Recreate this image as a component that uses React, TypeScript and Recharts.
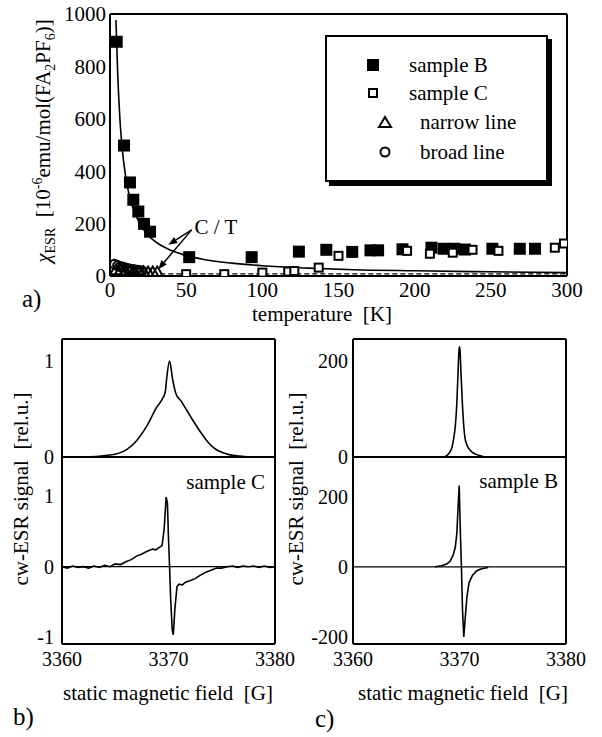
import React from 'react';
import {
  ComposedChart,
  LineChart,
  Line,
  Scatter,
  XAxis,
  YAxis,
  ReferenceLine,
  Legend,
} from 'recharts';

const FONT = '"Liberation Serif", "Times New Roman", Times, serif';
const INK = '#000';

// a) ESR susceptibility vs temperature
const bTemp = [4.4, 9.2, 13.1, 15.3, 18.6, 22.3, 26.3, 52, 93, 124, 142, 159, 171, 176, 192, 211, 219, 226, 233, 251, 269, 279];
const bChi = [894, 498, 357, 291, 246, 199, 169, 72, 72, 93, 100, 92, 98, 98, 102, 108, 104, 104, 101, 104, 104, 104];
const cTemp = [50, 75, 100, 117, 121, 137, 150, 195, 210, 225, 238, 255, 292, 298];
const cChi = [7, 7, 13, 17, 19, 32, 77, 96, 85, 89, 100, 96, 108, 124];
const narrowTemp = [4, 7, 10, 13, 16, 19, 22, 25, 28, 31];
const narrowChi = [22, 20, 18, 16, 15, 14, 14, 13, 13, 13];
const broadTemp = [3, 5, 7, 9, 11, 13, 15, 17, 19, 21];
const broadChi = [45, 40, 36, 33, 30, 27, 25, 23, 21, 20];
const fitTemp = [3.9, 5, 6.5, 8, 10, 12, 15, 20, 25, 30, 40, 50, 60, 80, 100, 130, 160, 200, 250, 300];
const fitChi = [977, 780, 600, 488, 390, 325, 260, 195, 156, 130, 98, 78, 65, 49, 39, 30, 24, 20, 16, 13];
const baseTemp = [33, 300];
const baseChi = [8, 8];

const tempTicks = [0, 50, 100, 150, 200, 250, 300];
const tempMinor = [25, 75, 125, 175, 225, 275];
const chiTicks = [0, 200, 400, 600, 800, 1000];
const chiMinor = [100, 300, 500, 700, 900];

const legendNames = ['sample B', 'sample C', 'narrow line', 'broad line'];

// b) sample C spectra
const cAbsField = [3360, 3362, 3364.5, 3366.1, 3367, 3368, 3368.9, 3369.4, 3369.7, 3369.85, 3370.1, 3370.4, 3370.7, 3371.2, 3371.7, 3372.3, 3373, 3373.6, 3374.2, 3375.5, 3376.7, 3378, 3380];
const cAbsSig = [0, 0, 0.02, 0.08, 0.17, 0.33, 0.52, 0.6, 0.68, 0.84, 1.0, 0.8, 0.66, 0.58, 0.49, 0.38, 0.26, 0.17, 0.1, 0.03, 0.01, 0, 0];
const cDerField = [3360, 3360.5, 3361, 3361.5, 3362, 3362.5, 3363, 3363.5, 3364, 3364.5, 3365, 3365.5, 3366, 3366.5, 3367, 3367.5, 3368, 3368.5, 3368.8, 3369.1, 3369.4, 3369.6, 3369.78, 3369.9, 3370.0, 3370.1, 3370.2, 3370.35, 3370.45, 3370.6, 3370.8, 3371.0, 3371.3, 3371.6, 3372, 3372.5, 3373, 3373.5, 3374, 3374.5, 3375, 3375.5, 3376, 3376.5, 3377, 3377.5, 3378, 3378.5, 3379, 3379.5, 3380];
const cDerSig = [0, -0.02, 0.01, -0.01, 0, -0.02, 0.01, -0.01, 0.02, 0, 0.04, 0.03, 0.07, 0.1, 0.15, 0.18, 0.22, 0.25, 0.24, 0.27, 0.3, 0.55, 0.99, 0.9, 0.4, 0, -0.45, -0.9, -0.97, -0.6, -0.28, -0.25, -0.26, -0.22, -0.2, -0.17, -0.12, -0.08, -0.05, -0.02, -0.02, 0, 0.01, -0.01, 0.01, 0, 0.01, -0.01, 0.01, -0.01, 0];

// c) sample B spectra
const bAbsField = [3368.5, 3368.8, 3369.1, 3369.3, 3369.5, 3369.6, 3369.75, 3369.85, 3369.95, 3370.0, 3370.05, 3370.15, 3370.3, 3370.5, 3370.7, 3371.0, 3371.5, 3371.9, 3372.4];
const bAbsSig = [0, 3, 10, 21, 45, 63, 113, 169, 222, 230, 222, 169, 99, 42, 25, 14, 6, 3, 0];
const bDerField = [3367.7, 3368.3, 3368.8, 3369.1, 3369.4, 3369.6, 3369.75, 3369.85, 3369.97, 3370.07, 3370.18, 3370.28, 3370.4, 3370.5, 3370.7, 3370.9, 3371.2, 3371.6, 3372.0, 3372.7];
const bDerSig = [0, 3, 8, 15, 33, 55, 95, 160, 232, 110, 0, -120, -200, -160, -85, -45, -25, -12, -6, -2];

const fieldTicks = [3360, 3370, 3380];
const fieldMarks = [3360, 3365, 3370, 3375, 3380];
const fieldMinor = [3362.5, 3367.5, 3372.5, 3377.5];

const zipT = (xs: number[], ys: number[]) => xs.map((t, i) => ({ t, chi: ys[i] }));
const zipF = (xs: number[], ys: number[]) => xs.map((f, i) => ({ f, s: ys[i] }));

const FRAME = { stroke: INK, strokeWidth: 2 };
const TICK = { stroke: INK, strokeWidth: 1.3 };

type BoxOpts = {
  xDom: [number, number];
  yDom: [number, number];
  xMaj: number[];
  xMin: number[];
  yMaj: number[];
  yMin: number[];
  topTicks: boolean;
  bottomTicks: boolean;
};

// frame lines + inward ticks on all four sides, built from mirrored axes
// (size 1, an axis of size 0 is not drawn at all)
function boxAxes(o: BoxOpts) {
  const base = { type: 'number' as const, allowDataOverflow: true, mirror: true, tick: false as const };
  const els: React.ReactNode[] = [];
  els.push(
    <XAxis key="xt" xAxisId="xt" orientation="top" {...base} domain={o.xDom} ticks={o.xMaj} height={1}
      tickSize={7} tickLine={o.topTicks ? TICK : false} axisLine={FRAME} />,
  );
  if (o.topTicks && o.xMin.length)
    els.push(<XAxis key="xtn" xAxisId="xtn" orientation="top" {...base} domain={o.xDom} ticks={o.xMin} height={1} tickSize={4} tickLine={TICK} axisLine={false} />);
  if (o.bottomTicks) {
    els.push(<XAxis key="xb" xAxisId="xb" {...base} domain={o.xDom} ticks={o.xMaj} height={1} tickSize={7} tickLine={TICK} axisLine={false} />);
    if (o.xMin.length)
      els.push(<XAxis key="xbn" xAxisId="xbn" {...base} domain={o.xDom} ticks={o.xMin} height={1} tickSize={4} tickLine={TICK} axisLine={false} />);
  }
  els.push(<YAxis key="yl" yAxisId="yl" {...base} domain={o.yDom} ticks={o.yMaj} width={1} tickSize={7} tickLine={TICK} axisLine={false} />);
  els.push(<YAxis key="yr" yAxisId="yr" orientation="right" {...base} domain={o.yDom} ticks={o.yMaj} width={1} tickSize={7} tickLine={TICK} axisLine={FRAME} />);
  if (o.yMin.length) {
    els.push(<YAxis key="yln" yAxisId="yln" {...base} domain={o.yDom} ticks={o.yMin} width={1} tickSize={4} tickLine={TICK} axisLine={false} />);
    els.push(<YAxis key="yrn" yAxisId="yrn" orientation="right" {...base} domain={o.yDom} ticks={o.yMin} width={1} tickSize={4} tickLine={TICK} axisLine={false} />);
  }
  return els;
}

const FilledSquare = (p: any) => <rect x={p.cx - 6} y={p.cy - 6} width={12} height={12} fill={INK} />;
const OpenSquare = (p: any) => (
  <rect x={p.cx - 4} y={p.cy - 4} width={8} height={8} fill="#fff" stroke={INK} strokeWidth={2} />
);
const OpenTriangle = (p: any) => (
  <polygon points={`${p.cx},${p.cy - 6} ${p.cx + 6},${p.cy + 4} ${p.cx - 6},${p.cy + 4}`} fill="none" stroke={INK} strokeWidth={2} />
);
const OpenCircle = (p: any) => <circle cx={p.cx} cy={p.cy} r={4.5} fill="none" stroke={INK} strokeWidth={2} />;

const Arrow = (p: any) => {
  const { x1, y1, x2, y2 } = p;
  const a = Math.atan2(y2 - y1, x2 - x1);
  const L = 9;
  const W = 3.5;
  const bx = x2 - L * Math.cos(a);
  const by = y2 - L * Math.sin(a);
  const pts = `${x2},${y2} ${bx - W * Math.sin(a)},${by + W * Math.cos(a)} ${bx + W * Math.sin(a)},${by - W * Math.cos(a)}`;
  return (
    <g>
      <line x1={x1} y1={y1} x2={bx} y2={by} stroke={INK} strokeWidth={1.5} />
      <polygon points={pts} fill={INK} />
    </g>
  );
};

function LegendIcon({ i }: { i: number }) {
  return (
    <svg width={16} height={16} style={{ display: 'block' }}>
      {i === 0 && <FilledSquare cx={8} cy={8} />}
      {i === 1 && <OpenSquare cx={8} cy={8} />}
      {i === 2 && <OpenTriangle cx={8} cy={9} />}
      {i === 3 && <OpenCircle cx={8} cy={8} />}
    </svg>
  );
}

function LegendBox() {
  const rowCenters = [30, 58, 87, 117];
  const iconX = [38, 38, 50, 50];
  const textX = [82, 82, 93, 93];
  return (
    <div
      style={{
        position: 'relative',
        width: 223,
        height: 147,
        boxSizing: 'border-box',
        border: '2px solid #000',
        background: '#fff',
        boxShadow: '4px 4px 0 #000',
        fontFamily: FONT,
        fontSize: 21,
        color: INK,
      }}
    >
      {legendNames.map((name, i) => (
        <React.Fragment key={name}>
          <div style={{ position: 'absolute', left: iconX[i], top: rowCenters[i] - 10 }}>
            <LegendIcon i={i} />
          </div>
          <div style={{ position: 'absolute', left: textX[i], top: rowCenters[i] - 14, lineHeight: '24px', whiteSpace: 'nowrap' }}>
            {name}
          </div>
        </React.Fragment>
      ))}
    </div>
  );
}

function TemperaturePanel() {
  return (
    <div style={{ position: 'absolute', left: 0, top: 0 }}>
      <ComposedChart width={602} height={340} margin={{ top: 14, right: 35, left: 0, bottom: 0 }}>
        <XAxis xAxisId="x" type="number" dataKey="t" domain={[0, 300]} ticks={tempTicks} interval={0}
          allowDataOverflow tickLine={false} tickSize={0} tickMargin={6} height={64}
          axisLine={FRAME} tick={{ fontSize: 21, fill: INK, fontFamily: FONT }} />
        <YAxis yAxisId="y" type="number" domain={[0, 1000]} ticks={chiTicks} interval={0}
          allowDataOverflow tickLine={false} tickSize={0} tickMargin={4} width={110}
          axisLine={FRAME} tick={{ fontSize: 21, fill: INK, fontFamily: FONT }} />
        {boxAxes({ xDom: [0, 300], yDom: [0, 1000], xMaj: tempTicks, xMin: tempMinor, yMaj: chiTicks, yMin: chiMinor, topTicks: true, bottomTicks: true })}
        <Line xAxisId="x" yAxisId="y" data={zipT(fitTemp, fitChi)} dataKey="chi" type="monotone"
          stroke={INK} strokeWidth={1.6} dot={false} isAnimationActive={false} />
        <Line xAxisId="x" yAxisId="y" data={zipT(baseTemp, baseChi)} dataKey="chi" type="linear"
          stroke={INK} strokeWidth={1.3} strokeDasharray="5 3" dot={false} isAnimationActive={false} />
        <Scatter xAxisId="x" yAxisId="y" name="broad line" data={zipT(broadTemp, broadChi)} dataKey="chi" shape={OpenCircle} isAnimationActive={false} />
        <Scatter xAxisId="x" yAxisId="y" name="narrow line" data={zipT(narrowTemp, narrowChi)} dataKey="chi" shape={OpenTriangle} isAnimationActive={false} />
        <Scatter xAxisId="x" yAxisId="y" name="sample B" data={zipT(bTemp, bChi)} dataKey="chi" shape={FilledSquare} isAnimationActive={false} />
        <Scatter xAxisId="x" yAxisId="y" name="sample C" data={zipT(cTemp, cChi)} dataKey="chi" shape={OpenSquare} isAnimationActive={false} />
        <ReferenceLine xAxisId="x" yAxisId="y" segment={[{ x: 53.6, y: 176 }, { x: 38.3, y: 119 }]} shape={Arrow} />
        <ReferenceLine xAxisId="x" yAxisId="y" segment={[{ x: 53.6, y: 176 }, { x: 31.7, y: 26 }]} shape={Arrow} />
        <Legend layout="vertical" align="center" verticalAlign="middle" content={() => <LegendBox />}
          wrapperStyle={{ left: 325, top: 35, width: 223, height: 147 }} />
      </ComposedChart>
    </div>
  );
}

type SpecProps = {
  left: number;
  yWidth: number;
  upper: boolean;
  data: { f: number; s: number }[];
  yDom: [number, number];
  yTicks: number[];
  tickGap: number;
  curve: 'linear' | 'monotone';
};

function SpectrumPanel({ left, yWidth, upper, data, yDom, yTicks, tickGap, curve }: SpecProps) {
  const xDom: [number, number] = [3360, 3380];
  const top = upper ? 327 : 445;
  const height = upper ? 142 : 240;
  return (
    <div style={{ position: 'absolute', left, top }}>
      <LineChart width={310} height={height} data={data}
        margin={{ top: 12, right: 310 - yWidth - 213, left: 0, bottom: upper ? 11 : 0 }}>
        <XAxis xAxisId="x" type="number" dataKey="f" domain={xDom} ticks={fieldTicks} interval={0}
          allowDataOverflow tickLine={false} tickSize={0} tickMargin={8} height={upper ? 1 : 41}
          axisLine={FRAME} tick={upper ? false : { fontSize: 20, fill: INK, fontFamily: FONT }} />
        <YAxis yAxisId="y" type="number" domain={yDom} ticks={yTicks} interval={0}
          allowDataOverflow tickLine={false} tickSize={0} tickMargin={tickGap} width={yWidth}
          axisLine={FRAME} tick={{ fontSize: 20, fill: INK, fontFamily: FONT }} />
        {boxAxes({ xDom, yDom, xMaj: fieldMarks, xMin: fieldMinor, yMaj: yTicks, yMin: [], topTicks: upper, bottomTicks: !upper })}
        {!upper && <ReferenceLine xAxisId="x" yAxisId="y" y={0} stroke={INK} strokeWidth={1.2} />}
        <Line xAxisId="x" yAxisId="y" dataKey="s" type={curve} stroke={INK} strokeWidth={1.6}
          dot={false} isAnimationActive={false} />
      </LineChart>
    </div>
  );
}

const txt = { fontFamily: FONT, fill: INK } as const;

function Overlay() {
  return (
    <svg width={602} height={737} style={{ position: 'absolute', left: 0, top: 0, pointerEvents: 'none' }}>
      <text {...txt} fontSize={21} x={50} y={141} textAnchor="middle" transform="rotate(-90 50 141)" style={{ whiteSpace: 'pre' }}>
        <tspan fontStyle="italic">χ</tspan>
        <tspan fontSize={14} dy={5}>ESR</tspan>
        <tspan dy={-5}>{'  [10'}</tspan>
        <tspan fontSize={14} dy={-8}>-6</tspan>
        <tspan dy={8}>emu/mol(FA</tspan>
        <tspan fontSize={14} dy={5}>2</tspan>
        <tspan dy={-5}>PF</tspan>
        <tspan fontSize={14} dy={5}>6</tspan>
        <tspan dy={-5}>)]</tspan>
      </text>
      <text {...txt} fontSize={21} x={216} y={234} textAnchor="middle">C / T</text>
      <text {...txt} fontSize={21} x={322} y={321} textAnchor="middle" style={{ whiteSpace: 'pre' }}>{'temperature  [K]'}</text>
      <text {...txt} fontSize={25} x={22} y={307}>a)</text>

      <text {...txt} fontSize={21} x={28} y={489} textAnchor="middle" transform="rotate(-90 28 489)" style={{ whiteSpace: 'pre' }}>{'cw-ESR signal  [rel.u.]'}</text>
      <text {...txt} fontSize={21} x={303} y={489} textAnchor="middle" transform="rotate(-90 303 489)" style={{ whiteSpace: 'pre' }}>{'cw-ESR signal  [rel.u.]'}</text>
      <text {...txt} fontSize={21} x={265} y={489} textAnchor="end">sample C</text>
      <text {...txt} fontSize={21} x={558} y={488} textAnchor="end">sample B</text>
      <text {...txt} fontSize={21} x={168} y={700} textAnchor="middle" style={{ whiteSpace: 'pre' }}>{'static magnetic field  [G]'}</text>
      <text {...txt} fontSize={21} x={463} y={700} textAnchor="middle" style={{ whiteSpace: 'pre' }}>{'static magnetic field  [G]'}</text>
      <text {...txt} fontSize={25} x={13} y={725}>b)</text>
      <text {...txt} fontSize={25} x={315} y={727}>c)</text>
    </svg>
  );
}

export default function App() {
  return (
    <div style={{ position: 'absolute', left: 0, top: 0, width: 602, height: 737, background: '#fff', fontFamily: FONT, color: INK }}>
      <TemperaturePanel />
      <SpectrumPanel left={0} yWidth={62} upper data={zipF(cAbsField, cAbsSig)} yDom={[0, 1.23]} yTicks={[0, 1]} tickGap={8} curve="monotone" />
      <SpectrumPanel left={0} yWidth={62} upper={false} data={zipF(cDerField, cDerSig)} yDom={[-1.1, 1.56]} yTicks={[-1, 0, 1]} tickGap={8} curve="linear" />
      <SpectrumPanel left={290} yWidth={63} upper data={zipF(bAbsField, bAbsSig)} yDom={[0, 246]} yTicks={[0, 200]} tickGap={5} curve="monotone" />
      <SpectrumPanel left={290} yWidth={63} upper={false} data={zipF(bDerField, bDerSig)} yDom={[-220, 313]} yTicks={[-200, 0, 200]} tickGap={5} curve="linear" />
      <Overlay />
    </div>
  );
}
